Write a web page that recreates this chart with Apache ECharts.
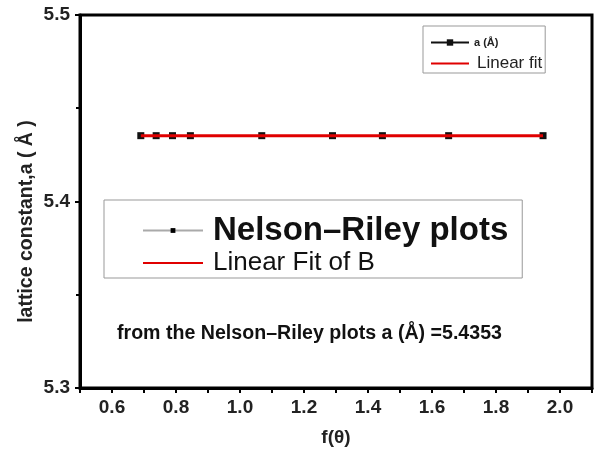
<!DOCTYPE html>
<html>
<head>
<meta charset="utf-8">
<script src="https://cdn.jsdelivr.net/npm/echarts@6/dist/echarts.min.js"></script>
<style>
  html, body { margin: 0; padding: 0; background: #fff; }
  #chart { width: 598px; height: 455px; }
</style>
</head>
<body>
<div id="chart"></div>
<script>
// measured points, f(theta) vs lattice constant a
const fTheta = [0.69, 0.738, 0.789, 0.845, 1.068, 1.289, 1.445, 1.652, 1.947];
const latticeA = [5.4353, 5.4353, 5.4353, 5.4353, 5.4353, 5.4353, 5.4353, 5.4353, 5.4353];
// linear fit end points
const fitX = [0.69, 1.947];
const fitY = [5.4353, 5.4353];

const FONT = "Liberation Sans, Arial, sans-serif";
const RED = "#e00000";

const chart = echarts.init(document.getElementById("chart"));

chart.setOption({
  backgroundColor: "#fff",
  animation: false,
  textStyle: { fontFamily: FONT },
  grid: {
    left: 80, right: 6, top: 15, bottom: 67,
    show: true, borderColor: "#000", borderWidth: 3
  },
  xAxis: {
    type: "value",
    min: 0.5, max: 2.1, interval: 0.1,
    name: "f(θ)",
    nameLocation: "middle",
    nameGap: 40,
    nameTextStyle: { fontSize: 19, fontWeight: "bold", color: "#222", fontFamily: FONT },
    axisLine: { lineStyle: { color: "#000", width: 3 } },
    axisTick: { show: true, length: 5, lineStyle: { color: "#000", width: 2 } },
    axisLabel: {
      margin: 10,
      fontSize: 19, fontWeight: "bold", color: "#222", fontFamily: FONT,
      formatter: (v) => (Math.round(v * 10) % 2 === 0 ? v.toFixed(1) : "")
    },
    splitLine: { show: false }
  },
  yAxis: {
    type: "value",
    min: 5.3, max: 5.5, interval: 0.1,
    name: "lattice constant,a ( Å )",
    nameLocation: "middle",
    nameGap: 43,
    nameMoveOverlap: false,
    nameTextStyle: {
      fontSize: 19.5, fontWeight: "bold", color: "#222", fontFamily: FONT,
      padding: [0, 40, 0, 0]
    },
    axisLine: { show: true, lineStyle: { color: "#000", width: 3 } },
    axisTick: { show: true, length: 5, lineStyle: { color: "#000", width: 2 } },
    minorTick: { show: true, splitNumber: 2, length: 4, lineStyle: { color: "#000", width: 2 } },
    axisLabel: {
      margin: 10,
      fontSize: 19, fontWeight: "bold", color: "#222", fontFamily: FONT,
      formatter: (v) => v.toFixed(1)
    },
    splitLine: { show: false }
  },
  legend: [
    {
      data: ["a (Å)", { name: "Linear fit", itemStyle: { opacity: 0 } }],
      orient: "vertical",
      left: 423, top: 26,
      padding: [11, 3, 1, 7],
      itemGap: 7,
      itemWidth: 38, itemHeight: 8,
      borderColor: "#999", borderWidth: 1,
      textStyle: {
        fontFamily: FONT, color: "#222",
        rich: {
          s: { fontSize: 11, lineHeight: 12, fontWeight: "bold", fontFamily: FONT, color: "#222" },
          l: { fontSize: 17, lineHeight: 18, fontFamily: FONT, color: "#222", padding: [0, 0, 0, 3] }
        }
      },
      formatter: (n) => (n === "a (Å)" ? "{s|" + n + "}" : "{l|" + n + "}")
    },
    {
      data: ["Nelson–Riley plots", { name: "Linear Fit of B", itemStyle: { opacity: 0 } }],
      orient: "vertical",
      left: 104, top: 200,
      padding: [14, 14, 2, 38],
      itemGap: 3,
      itemWidth: 60, itemHeight: 6,
      borderColor: "#999", borderWidth: 1,
      textStyle: {
        fontFamily: FONT, color: "#111",
        rich: {
          b: { fontSize: 33, lineHeight: 34, fontWeight: "bold", fontFamily: FONT, color: "#111", padding: [0, 0, 0, 5] },
          r: { fontSize: 26, lineHeight: 27, fontFamily: FONT, color: "#111", padding: [0, 0, 0, 5] }
        }
      },
      formatter: (n) => (n === "Nelson–Riley plots" ? "{b|" + n + "}" : "{r|" + n + "}")
    }
  ],
  graphic: [
    {
      type: "text",
      left: 117, top: 324,
      style: {
        text: "from the Nelson–Riley plots a (Å) =5.4353",
        font: "bold 19.6px " + FONT,
        fill: "#111"
      }
    }
  ],
  series: [
    {
      name: "a (Å)",
      type: "line",
      data: fTheta.map((x, i) => [x, latticeA[i]]),
      symbol: "rect",
      symbolSize: 7,
      itemStyle: { color: "#111" },
      lineStyle: { color: "#111", width: 1 },
      z: 2
    },
    {
      name: "Linear fit",
      type: "line",
      data: fitX.map((x, i) => [x, fitY[i]]),
      symbol: "none",
      itemStyle: { color: RED },
      lineStyle: { color: RED, width: 3 },
      z: 3
    },
    {
      name: "Nelson–Riley plots",
      type: "line",
      data: [],
      symbol: "rect",
      itemStyle: { color: "#000" },
      lineStyle: { color: "#aaa", width: 1 }
    },
    {
      name: "Linear Fit of B",
      type: "line",
      data: [],
      symbol: "none",
      itemStyle: { color: RED },
      lineStyle: { color: RED, width: 3 }
    }
  ]
});
</script>
</body>
</html>
